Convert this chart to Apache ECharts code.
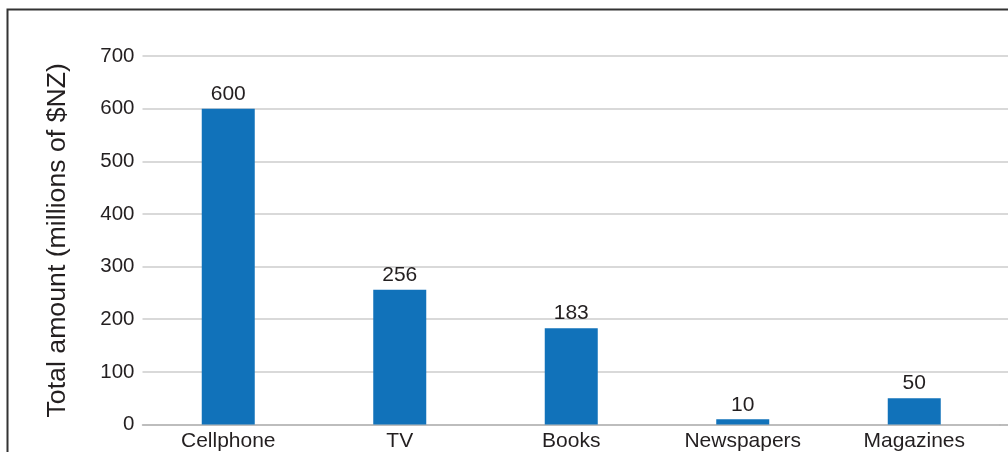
<!DOCTYPE html>
<html>
<head>
<meta charset="utf-8">
<script src="https://cdn.jsdelivr.net/npm/echarts@6/dist/echarts.min.js"></script>
<style>
html,body{margin:0;padding:0;background:#fff;}
#chart{width:1008px;height:452px;}
</style>
</head>
<body>
<div id="chart"></div>
<script>
const categories = ['Cellphone', 'TV', 'Books', 'Newspapers', 'Magazines'];
const values = [600, 256, 183, 10, 50];
const yTicks = [0, 100, 200, 300, 400, 500, 600, 700];
const yTitle = 'Total amount (millions of $NZ)';

const FONT = '"Liberation Sans", Arial, sans-serif';
const TXT = '#231f20';
const chart = echarts.init(document.getElementById('chart'), null, {renderer: 'canvas'});
const yMin = yTicks[0], yMax = yTicks[yTicks.length - 1], yStep = yTicks[1] - yTicks[0];

chart.setOption({
  animation: false,
  backgroundColor: '#ffffff',
  textStyle: {fontFamily: FONT},
  graphic: [{
    type: 'rect',
    shape: {x: 7.5, y: 9.5, width: 1200, height: 600},
    style: {fill: 'none', stroke: '#333333', lineWidth: 2},
    silent: true,
    z: 100
  }],
  grid: [
    {left: 142.5, right: 8, top: 56, bottom: 27.5},
    {left: 1000, right: 0, top: 56, bottom: 27.5}
  ],
  xAxis: [{
    type: 'category',
    gridIndex: 0,
    data: categories,
    axisTick: {show: false},
    axisLine: {show: true, lineStyle: {color: '#b4b4b4', width: 1.5}},
    axisLabel: {color: TXT, fontSize: 21, fontFamily: FONT, margin: 6, interval: 0}
  }, {
    type: 'category',
    gridIndex: 1,
    data: [''],
    axisTick: {show: false},
    axisLabel: {show: false},
    axisLine: {show: true, lineStyle: {color: '#b4b4b4', width: 1.5}}
  }],
  yAxis: [{
    type: 'value',
    gridIndex: 0,
    min: yMin, max: yMax, interval: yStep,
    name: yTitle,
    nameLocation: 'middle',
    nameGap: 71,
    nameTextStyle: {color: TXT, fontSize: 26.7, fontFamily: FONT},
    axisLine: {show: false},
    axisTick: {show: false},
    axisLabel: {color: TXT, fontSize: 20.5, fontFamily: FONT, margin: 8},
    splitLine: {show: true, lineStyle: {color: '#cccccc', width: 1.5}}
  }, {
    type: 'value',
    gridIndex: 1,
    min: yMin, max: yMax, interval: yStep,
    axisLine: {show: false},
    axisTick: {show: false},
    axisLabel: {show: false},
    splitLine: {show: true, lineStyle: {color: '#cccccc', width: 1.5}}
  }],
  series: [{
    type: 'bar',
    xAxisIndex: 0,
    yAxisIndex: 0,
    data: values,
    barWidth: 53,
    itemStyle: {color: '#1172ba'},
    label: {
      show: true,
      position: 'top',
      distance: 4,
      color: TXT,
      fontSize: 21,
      fontFamily: FONT
    }
  }]
});
</script>
</body>
</html>
